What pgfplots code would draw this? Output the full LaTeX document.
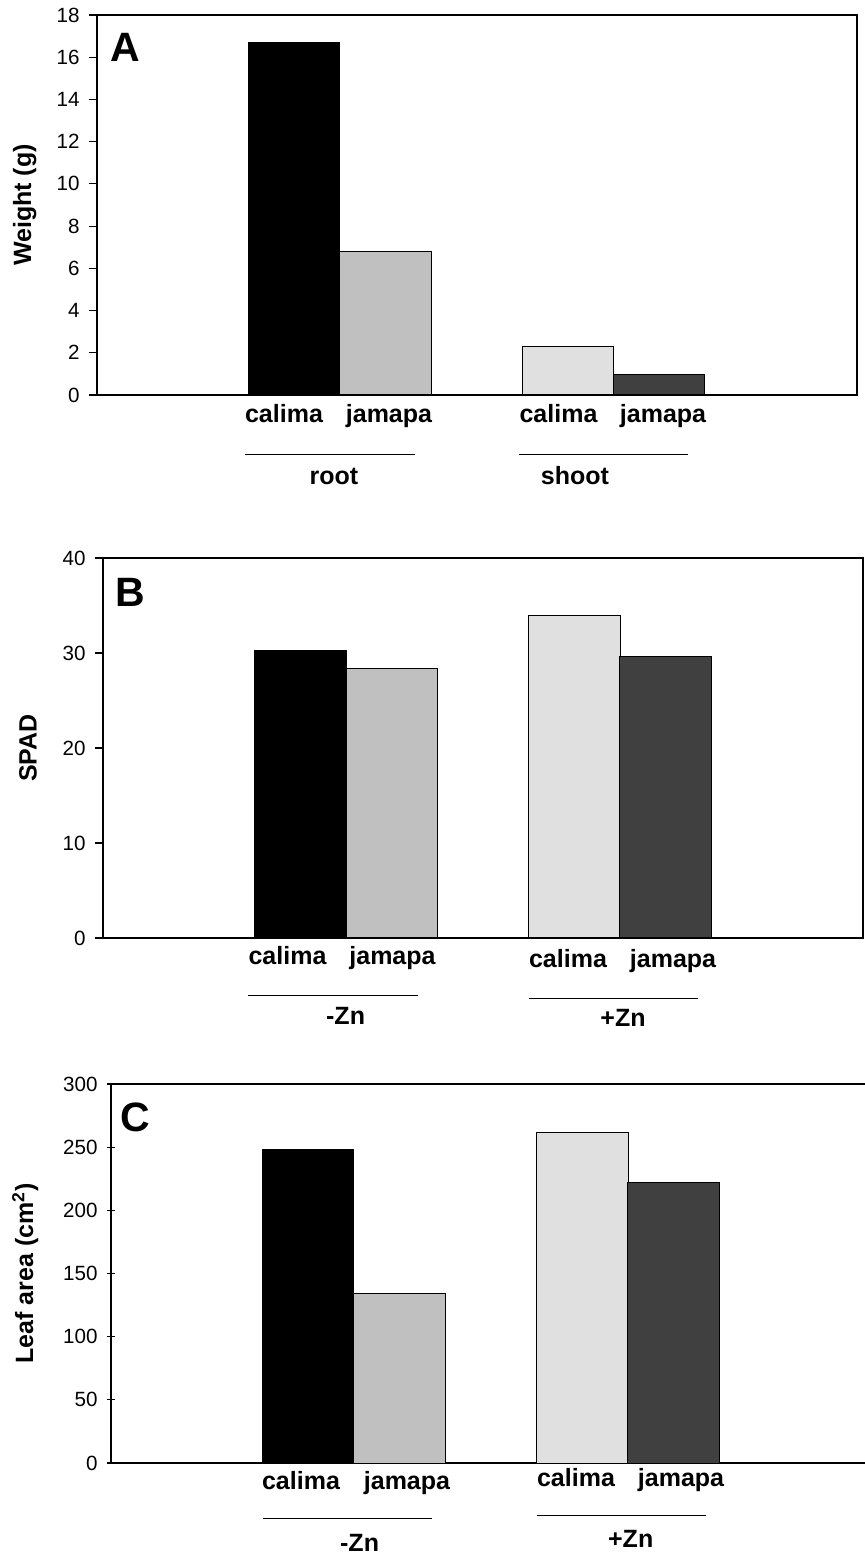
\documentclass[border=0pt]{standalone}
\usepackage{pgfplots}
\pgfplotsset{compat=1.18}
\usepackage{fontspec}
\setmainfont{Liberation Sans}
\definecolor{cgray}{HTML}{C0C0C0}
\definecolor{clight}{HTML}{E0E0E0}
\definecolor{cdark}{HTML}{404040}
\pgfplotsset{
  panel/.style={
    scale only axis, width=380pt, height=190pt,
    xmin=0, xmax=760, ymin=0,
    xtick=\empty, ytick pos=left, tick align=outside,
    major tick length=4pt,
    axis line style={line width=0.7pt},
    every tick/.style={black, line width=0.6pt},
    /pgf/number format/assume math mode=true,
    tick label style={font=\fontsize{10.3}{12}\selectfont},
    yticklabel style={xshift=-1.2pt},
    ybar, bar shift=0pt, bar width=45.75pt,
    every axis plot/.append style={draw=black, line width=0.5pt},
  },
}
\tikzset{
  ylab/.style={font=\fontsize{12.5}{14}\selectfont\bfseries, rotate=90, anchor=base},
  barlab/.style={font=\fontsize{12.5}{14}\selectfont\bfseries, anchor=base, inner sep=0pt},
  plab/.style={font=\fontsize{20.5}{22}\selectfont\bfseries, anchor=base west, inner sep=0pt},
}
\begin{document}
\begin{tikzpicture}
\useasboundingbox (0,0) rectangle (432.5pt,777pt);
% ---------- Panel A ----------
\begin{axis}[panel, at={(48.5pt,579.5pt)}, anchor=south west,
  ymax=18, ytick={0,2,...,18},
  ylabel={Weight (g)},
  every axis y label/.style={at={(axis description cs:-0.0868,0.5)}, ylab}]
\addplot[fill=black] coordinates {(197,16.7)};
\addplot[fill=cgray] coordinates {(288.5,6.8)};
\addplot[fill=clight] coordinates {(471,2.28)};
\addplot[fill=cdark] coordinates {(562,0.98)};
\end{axis}
\node[plab] at (55pt,746pt) {A};
\node[barlab] at (142pt,565.5pt) {calima};
\node[barlab] at (194.5pt,565.5pt) {jamapa};
\node[barlab] at (279.25pt,565.5pt) {calima};
\node[barlab] at (331.5pt,565.5pt) {jamapa};
\draw[line width=0.5pt] (122.5pt,549.5pt) -- (207.5pt,549.5pt);
\draw[line width=0.5pt] (259.5pt,549.5pt) -- (344pt,549.5pt);
\node[barlab] at (167pt,534.5pt) {root};
\node[barlab] at (287.5pt,534.5pt) {shoot};
% ---------- Panel B ----------
\begin{axis}[panel, at={(51.5pt,308pt)}, anchor=south west,
  ymax=40, ytick={0,10,...,40},
  ylabel={SPAD},
  every axis y label/.style={at={(axis description cs:-0.0875,0.5)}, ylab}]
\addplot[fill=black] coordinates {(197.5,30.3)};
\addplot[fill=cgray] coordinates {(289,28.4)};
\addplot[fill=clight] coordinates {(471.5,33.9)};
\addplot[fill=cdark] coordinates {(562.5,29.6)};
\end{axis}
\node[plab] at (57.5pt,473.5pt) {B};
\node[barlab] at (143.75pt,294.5pt) {calima};
\node[barlab] at (196.25pt,294.5pt) {jamapa};
\node[barlab] at (284pt,293pt) {calima};
\node[barlab] at (336.5pt,293pt) {jamapa};
\draw[line width=0.5pt] (124pt,279.3pt) -- (208.75pt,279.3pt);
\draw[line width=0.5pt] (264.5pt,277.5pt) -- (349pt,277.5pt);
\node[barlab] at (172.8pt,264.5pt) {-Zn};
\node[barlab] at (311.5pt,263.5pt) {+Zn};
% ---------- Panel C ----------
\begin{axis}[panel, at={(55.5pt,45.5pt)}, anchor=south west,
  width=377pt, height=189.5pt, xmax=754,
  axis x line=box, axis y line=left,
  x axis line style={-}, y axis line style={-},
  ymax=300, ytick={0,50,...,300},
  ylabel={Leaf area (cm\textsuperscript{2})},
  every axis y label/.style={at={(axis description cs:-0.1034,0.5)}, ylab}]
\addplot[fill=black] coordinates {(197,248)};
\addplot[fill=cgray] coordinates {(288.5,134)};
\addplot[fill=clight] coordinates {(471.5,262)};
\addplot[fill=cdark] coordinates {(562.5,222)};
\end{axis}
\node[plab] at (60pt,211pt) {C};
\node[barlab] at (150.5pt,32pt) {calima};
\node[barlab] at (203.5pt,32pt) {jamapa};
\node[barlab] at (288pt,33.5pt) {calima};
\node[barlab] at (340.5pt,33.5pt) {jamapa};
\draw[line width=0.5pt] (131.25pt,17.5pt) -- (215.8pt,17.5pt);
\draw[line width=0.5pt] (268.5pt,19pt) -- (353pt,19pt);
\node[barlab] at (179.8pt,1.5pt) {-Zn};
\node[barlab] at (315.35pt,3pt) {+Zn};
\end{tikzpicture}
\end{document}
